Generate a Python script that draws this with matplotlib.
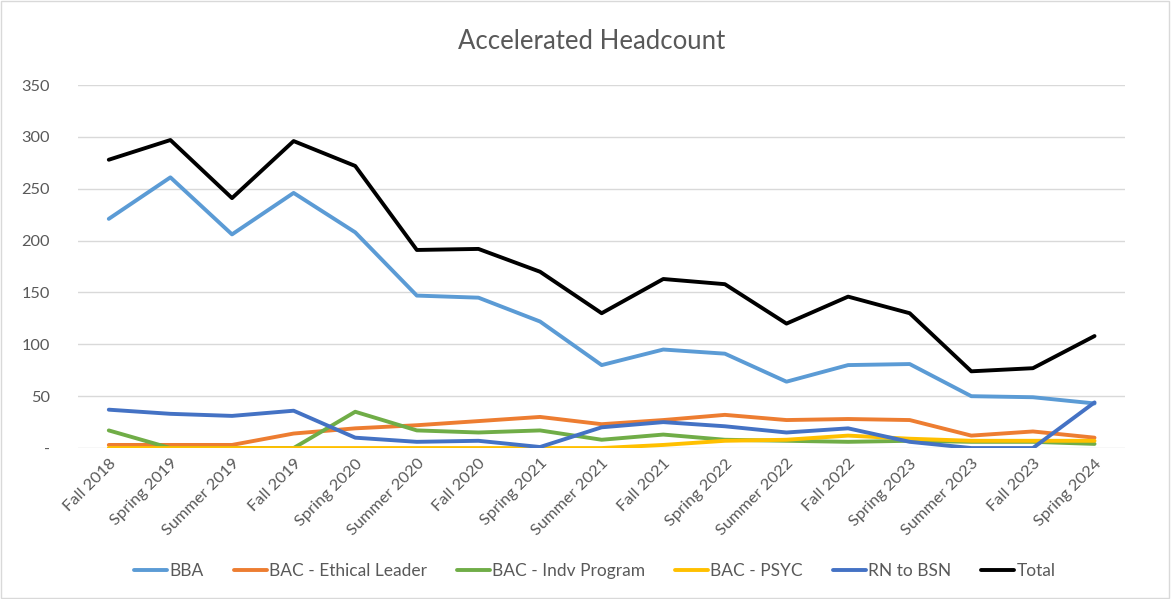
import numpy as np
import matplotlib
matplotlib.use('Agg')
from matplotlib import pyplot as plt
from matplotlib.patches import Rectangle

terms = ['Fall 2018', 'Spring 2019', 'Summer 2019', 'Fall 2019', 'Spring 2020',
         'Summer 2020', 'Fall 2020', 'Spring 2021', 'Summer 2021', 'Fall 2021',
         'Spring 2022', 'Summer 2022', 'Fall 2022', 'Spring 2023', 'Summer 2023',
         'Fall 2023', 'Spring 2024']

bba = [221, 261, 206, 246, 208, 147, 145, 122, 80, 95, 91, 64, 80, 81, 50, 49, 43]
ethical = [3, 3, 3, 14, 19, 22, 26, 30, 23, 27, 32, 27, 28, 27, 12, 16, 10]
indv = [17, 0, 0, 0, 35, 17, 15, 17, 8, 13, 8, 7, 6, 7, 6, 6, 4]
psyc = [0, 0, 0, 0, 0, 0, 0, 0, 0, 3, 7, 8, 12, 9, 7, 7, 7]
rn_bsn = [37, 33, 31, 36, 10, 6, 7, 1, 20, 25, 21, 15, 19, 6, 0, 0, 44]
total = [278, 297, 241, 296, 272, 191, 192, 170, 130, 163, 158, 120, 146, 130, 74, 77, 108]

series = [
    ('BBA', bba, '#5B9BD5'),
    ('BAC - Ethical Leader', ethical, '#ED7D31'),
    ('BAC - Indv Program', indv, '#70AD47'),
    ('BAC - PSYC', psyc, '#FFC000'),
    ('RN to BSN', rn_bsn, '#4472C4'),
    ('Total', total, '#000000'),
]

plt.rcParams['font.family'] = ['Lato', 'DejaVu Sans']
txt = '#595959'

fig = plt.figure(figsize=(11.71, 5.99), dpi=100)
ax = fig.add_axes([0.0666, 0.252, 0.8944, 0.606])

x = np.arange(len(terms))
for name, vals, col in series:
    ax.plot(x, vals, color=col, linewidth=2.8, label=name,
            solid_capstyle='round', solid_joinstyle='round')

ax.set_xlim(-0.5, len(terms) - 0.5)
ax.set_ylim(0, 350)
ax.set_yticks(range(0, 351, 50))
ax.set_yticklabels(['-'] + [str(v) for v in range(50, 351, 50)])
ax.set_xticks(x)
ax.set_xticklabels(terms, rotation=45, ha='right', rotation_mode='anchor')
ax.tick_params(axis='both', length=0, colors=txt, labelsize=11.8)
ax.tick_params(axis='y', pad=20)
ax.tick_params(axis='x', pad=6)
ax.grid(axis='y', color='#D9D9D9', linewidth=1)
ax.set_axisbelow(True)
for s in ax.spines.values():
    s.set_visible(False)

fig.text(0.505, 0.93, 'Accelerated Headcount', ha='center', va='center',
         fontsize=18.5, color=txt)

fig.legend(loc='center', bbox_to_anchor=(0.508, 0.046), ncol=6, frameon=False,
           fontsize=12.5, handlelength=1.9, columnspacing=1.7, handletextpad=0.15,
           labelcolor=txt)

fig.add_artist(Rectangle((0.001, 0.002), 0.997, 0.996, transform=fig.transFigure,
                         fill=False, edgecolor='#D9D9D9', linewidth=1))

fig.savefig('out.png', dpi=100)
